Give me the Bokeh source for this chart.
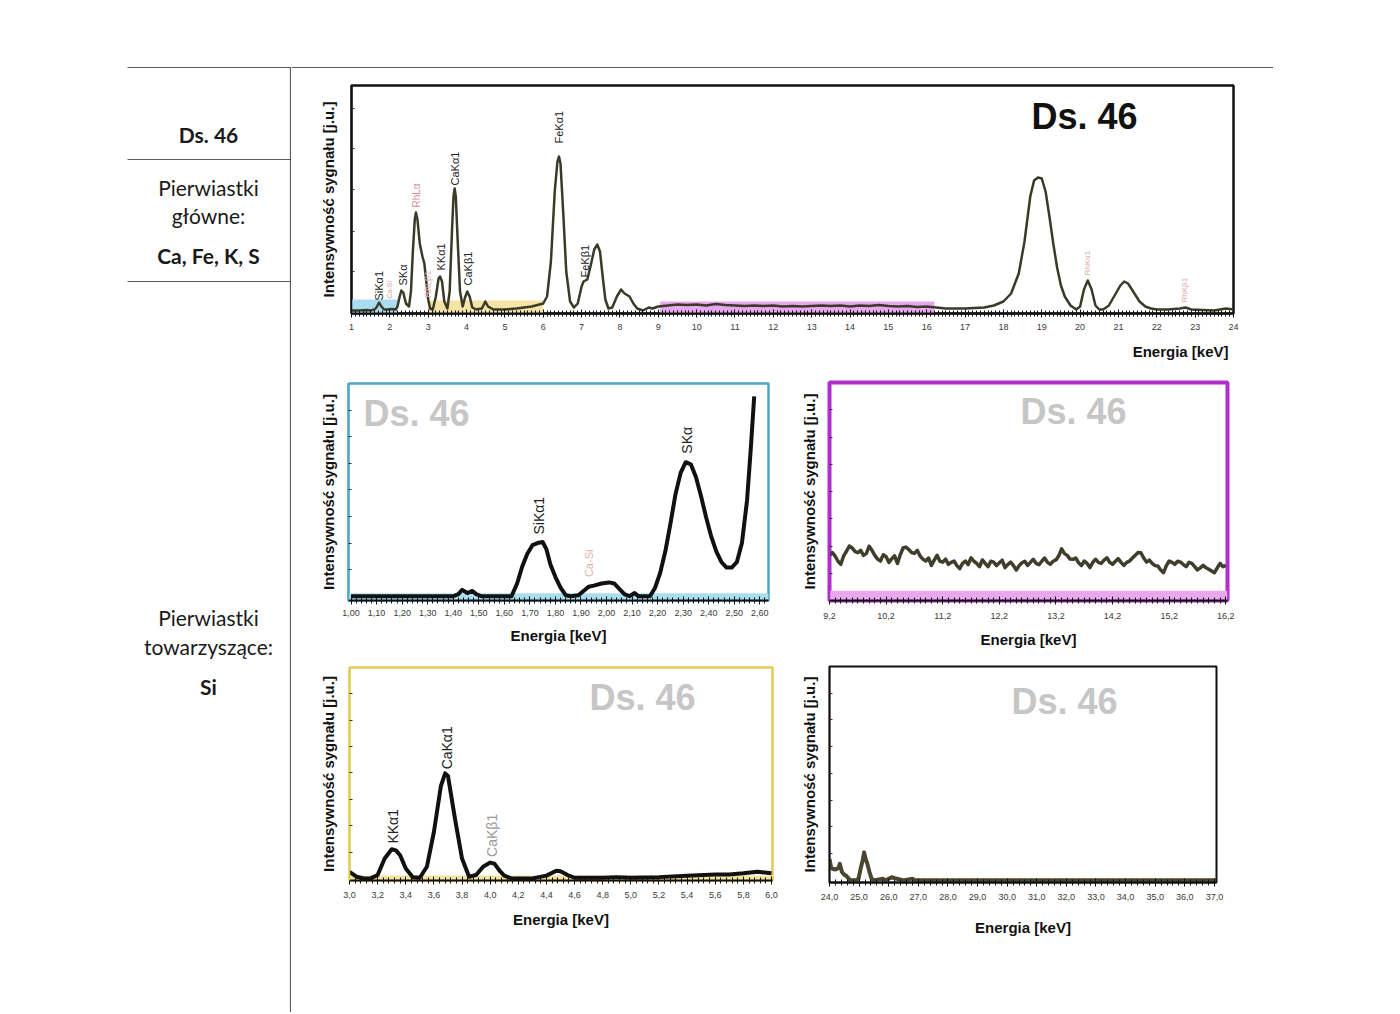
from math import pi
import numpy as np
from bokeh.plotting import figure
from bokeh.layouts import row, column
from bokeh.models import (Range1d, Label, Title, SingleIntervalTicker, FixedTicker,
                          CustomJSTickFormatter)
from bokeh.core.properties import value
from bokeh.embed import file_html
from bokeh.resources import INLINE

FONT = "Liberation Sans"
TFONT = "Lato"

# ------------------------------------------------------------------ data
# full spectrum 1-24 keV (arbitrary units)
main_kev = [1.0, 1.2, 1.4, 1.5, 1.6, 1.65, 1.72, 1.78, 1.85, 1.95,
            2.05, 2.15, 2.2, 2.25, 2.3, 2.35, 2.42, 2.5, 2.55, 2.6,
            2.65, 2.68, 2.72, 2.78, 2.85, 2.9, 2.95, 3.0, 3.05, 3.12,
            3.2, 3.27, 3.31, 3.36, 3.42, 3.5, 3.56, 3.62, 3.66, 3.69,
            3.72, 3.77, 3.83, 3.9, 3.96, 4.02, 4.08, 4.15, 4.25, 4.4,
            4.49, 4.56, 4.7, 5.0, 5.3, 5.5, 5.7, 5.9, 6.0, 6.1,
            6.2, 6.3, 6.37, 6.41, 6.45, 6.52, 6.6, 6.7, 6.8, 6.9,
            7.0, 7.05, 7.15, 7.25, 7.33, 7.41, 7.48, 7.55, 7.62, 7.7,
            7.8, 7.92, 8.03, 8.12, 8.25, 8.35, 8.45, 8.6, 8.75, 8.85,
            9.0,
            9.25, 9.5, 9.75, 10.0, 10.25, 10.5, 10.75, 11.0, 11.25, 11.5,
            11.75, 12.0, 12.25, 12.5, 12.75, 13.0, 13.25, 13.5, 13.75, 14.0,
            14.25, 14.5, 14.75, 15.0, 15.25, 15.5, 15.75, 16.0, 16.25,
            16.5, 16.75, 17.0, 17.25, 17.5, 17.75, 18.0, 18.2, 18.4, 18.55,
            18.7, 18.8, 18.9, 19.0, 19.1, 19.2, 19.3, 19.4, 19.5, 19.6,
            19.75, 19.9, 20.0, 20.1, 20.2, 20.3, 20.4, 20.5, 20.6, 20.75,
            20.9, 21.05, 21.15, 21.25, 21.4, 21.55, 21.7, 21.85, 22.0, 22.3,
            22.6, 22.75, 22.9, 23.2, 23.5, 23.8, 24.0]
main_int = [1, 1, 1.5, 1, 2, 4, 9, 5, 2, 2,
            2.5, 2, 5, 14, 21, 19, 8, 5, 20, 60,
            92, 99, 92, 68, 55, 48, 30, 12, 3, 2,
            15, 33, 35, 30, 10, 3, 20, 80, 115, 123,
            115, 70, 20, 5, 14, 20, 15, 4, 2, 3,
            10, 5, 2, 2, 3, 4, 5, 7, 8, 15,
            50, 120, 150, 155, 148, 100, 40, 10, 4, 8,
            25, 30, 32, 48, 62, 67, 60, 35, 12, 3,
            4, 15, 22, 18, 15, 8, 3, 1, 4, 3,
            5,
            6, 7, 6.5, 7, 6, 7.5, 6.5, 6, 5.5, 6,
            5.5, 6, 5, 5.5, 5, 5.5, 6, 5.5, 6, 5,
            6, 5.5, 6.5, 5.5, 5, 5.5, 4.5, 5, 4,
            3, 3, 3, 3.5, 4, 6, 10, 18, 38, 70,
            115, 131, 134, 133, 120, 95, 68, 44, 26, 15,
            6, 2, 5, 22, 31, 22, 6, 2, 2, 6,
            16, 26, 30, 28, 19, 10, 5, 3, 2, 2,
            3, 4, 2, 1.5, 1, 3, 2]
main_lbl = ["SiKα1", "Ca-Si", "SKα", "RhLα", "RhLβ1", "KKα1", "CaKα1", "CaKβ1",
            "FeKα1", "FeKβ1", "RhKα1", "RhKβ1"]
main_lbl_kev = [1.73, 1.99, 2.33, 2.70, 3.00, 3.34, 3.71, 4.05, 6.40, 7.08, 20.19, 22.72]
main_lbl_int = [11, 13, 26, 104, 14, 41, 126, 26, 168, 34, 36, 9]
main_lbl_color = ["#222222", "#d9a3a3", "#222222", "#d48f8f", "#e2b8b8", "#222222",
                  "#222222", "#222222", "#222222", "#222222", "#dcaaaa", "#dcaaaa"]
main_lbl_size = ["11px", "7px", "11px", "10px", "9px", "11px", "11px", "11px",
                 "11px", "11px", "8px", "8px"]
band_start = [1.0, 3.0, 9.05]
band_end = [2.2, 6.0, 16.2]
band_top = [12, 11, 10]
band_color = ["#a9dcf0", "#f4e4a6", "#e8a6ee"]

# zoom 1.0-2.6 keV
m1_kev = [1.00, 1.20, 1.40, 1.42, 1.435, 1.455, 1.475, 1.49, 1.51, 1.60,
          1.628, 1.65, 1.67, 1.69, 1.71, 1.73, 1.75, 1.765, 1.78, 1.80,
          1.82, 1.84, 1.86, 1.89, 1.91, 1.93, 1.95, 1.98, 2.01, 2.03,
          2.05, 2.07, 2.09, 2.11, 2.125, 2.14, 2.17, 2.19, 2.21, 2.23,
          2.25, 2.27, 2.29, 2.31, 2.33, 2.35, 2.37, 2.39, 2.41, 2.43,
          2.45, 2.47, 2.49, 2.51, 2.53, 2.55, 2.565, 2.578]
m1_int = [0, 0, 0, 1, 3, 1.5, 2.5, 1, 0, 0,
          0, 6, 14, 20, 24, 25, 25.5, 22, 15, 9,
          4, 0.5, 0, 0.5, 2.5, 4.5, 5, 6, 6.5, 6,
          3.5, 1, 0, 1.5, 0, 0, 0, 4, 11, 21,
          34, 48, 58, 63, 62, 56, 47, 37, 28, 21,
          16, 13.5, 13.5, 16, 25, 45, 70, 94]
m1_lbl = ["SiKα1", "Ca-Si", "SKα"]
m1_lbl_kev = [1.735, 1.93, 2.315]
m1_lbl_int = [29, 9, 67]
m1_lbl_color = ["#222222", "#e0b0a0", "#222222"]

# zoom 9.2-16.2 keV
m2_kev = [9.2, 9.25, 9.3, 9.35, 9.4, 9.45, 9.5, 9.55, 9.6, 9.65,
          9.7, 9.75, 9.8, 9.85, 9.9, 9.95, 10.0, 10.05, 10.1, 10.15,
          10.2, 10.25, 10.3, 10.35, 10.4, 10.45, 10.5, 10.55, 10.6, 10.65,
          10.7, 10.75, 10.8, 10.85, 10.9, 10.95, 11.0, 11.05, 11.1, 11.15,
          11.2, 11.25, 11.3, 11.35, 11.4, 11.45, 11.5, 11.55, 11.6, 11.65,
          11.7, 11.75, 11.8, 11.85, 11.9, 11.95, 12.0, 12.05, 12.1, 12.15,
          12.2, 12.25, 12.3, 12.35, 12.4, 12.45, 12.5, 12.55, 12.6, 12.65,
          12.7, 12.75, 12.8, 12.85, 12.9, 12.95, 13.0, 13.05, 13.1, 13.15,
          13.2, 13.25, 13.3, 13.35, 13.4, 13.45, 13.5, 13.55, 13.6, 13.65,
          13.7, 13.75, 13.8, 13.85, 13.9, 13.95, 14.0, 14.05, 14.1, 14.15,
          14.2, 14.25, 14.3, 14.35, 14.4, 14.45, 14.5, 14.55, 14.6, 14.65,
          14.7, 14.75, 14.8, 14.85, 14.9, 14.95, 15.0, 15.05, 15.1, 15.15,
          15.2, 15.25, 15.3, 15.35, 15.4, 15.45, 15.5, 15.55, 15.6, 15.65,
          15.7, 15.75, 15.8, 15.85, 15.9, 15.95, 16.0, 16.05, 16.1, 16.15, 16.2]
m2_int = [20.7, 22.0, 20.4, 18.0, 16.6, 20.5, 22.6, 25.0, 24.1, 22.5,
          21.9, 23.0, 20.7, 21.5, 24.9, 23.0, 20.7, 19.0, 18.1, 21.0,
          20.1, 17.5, 19.2, 20.5, 17.0, 21.0, 24.1, 24.5, 23.4, 22.0,
          21.6, 23.0, 20.4, 19.0, 18.1, 19.5, 16.1, 18.5, 20.7, 18.0,
          17.6, 19.0, 16.6, 17.5, 18.1, 16.0, 14.6, 17.0, 18.1, 16.5,
          19.6, 18.0, 17.0, 15.5, 18.6, 17.0, 15.5, 18.0, 17.6, 16.0,
          17.3, 18.5, 15.1, 16.5, 17.6, 16.0, 14.0, 16.0, 17.3, 18.0,
          16.1, 17.5, 18.9, 17.0, 16.4, 18.0, 19.5, 17.5, 16.6, 18.0,
          18.6, 20.5, 23.7, 21.5, 20.7, 19.0, 18.9, 19.5, 17.3, 16.0,
          18.1, 17.0, 15.1, 17.5, 18.9, 17.5, 17.0, 18.5, 19.6, 17.5,
          16.6, 18.0, 19.2, 17.5, 16.1, 17.5, 18.1, 19.5, 20.7, 22.0,
          21.9, 19.5, 17.6, 18.5, 17.0, 16.0, 15.8, 14.0, 12.8, 16.0,
          18.1, 17.5, 16.6, 18.0, 17.6, 16.5, 15.5, 17.5, 17.0, 15.5,
          14.0, 15.0, 16.1, 15.0, 14.3, 13.5, 12.8, 15.0, 17.0, 15.5, 16.1]

# zoom 3.0-6.0 keV
b1_kev = [3.0, 3.05, 3.1, 3.15, 3.2, 3.25, 3.3, 3.33, 3.36, 3.4,
          3.45, 3.5, 3.55, 3.6, 3.65, 3.68, 3.7, 3.75, 3.8, 3.85,
          3.9, 3.95, 4.0, 4.03, 4.07, 4.1, 4.15, 4.3, 4.4, 4.47,
          4.5, 4.55, 4.6, 4.8, 4.9, 5.0, 5.2, 5.4, 5.6, 5.7,
          5.8, 5.9, 6.0]
b1_int = [3.1, 0.8, 0, 0, 1.6, 9.4, 13.8, 13.3, 11, 4.7,
          0.5, 0.3, 5.5, 22, 43.9, 49.8, 48.6, 28.2, 9.4, 0.8,
          1.6, 5.5, 7.5, 7, 3.4, 1.3, 0, 0, 1.3, 3.6,
          3.4, 1.6, 0.3, 0.3, 0.6, 0.3, 0.6, 1.3, 1.9, 1.9,
          2.4, 3.1, 2.4]
b1_lbl = ["KKα1", "CaKα1", "CaKβ1"]
b1_lbl_kev = [3.31, 3.69, 4.01]
b1_lbl_int = [16.5, 51.7, 10.2]
b1_lbl_color = ["#222222", "#222222", "#9a9a9a"]

# zoom 24-37 keV
b2_kev = [24.0, 24.05, 24.1, 24.2, 24.3, 24.35, 24.42, 24.5, 24.55, 24.65,
          24.7, 24.9, 24.98, 25.05, 25.12, 25.17, 25.22, 25.28, 25.35, 25.42,
          25.5, 25.8, 25.9, 26.1, 26.2, 26.35, 26.5, 26.8, 26.9, 37.07]
b2_int = [10, 6.2, 5.4, 5.1, 5.7, 7.7, 3.9, 2.6, 2.3, 0.8,
          0, 0, 0.8, 5.4, 9.3, 13.1, 10, 7.7, 3.9, 0.8,
          0, 0.8, 0, 1.5, 1, 0.5, 0, 0.8, 0, 0]

m2_ticks = [9.2, 10.2, 11.2, 12.2, 13.2, 14.2, 15.2, 16.2]

# ------------------------------------------------------------------ helpers
GEOM = {}


def make_fig(box, frame, xr, yr):
    bx0, by0, bx1, by1 = box
    fl, ft, fr, fb = frame
    p = figure(width=bx1 - bx0, height=by1 - by0,
               x_range=Range1d(*xr), y_range=Range1d(*yr),
               output_backend="svg", toolbar_location=None,
               min_border_left=fl - bx0, min_border_right=bx1 - fr,
               min_border_top=ft - by0, min_border_bottom=by1 - fb)
    p.frame_align = False
    p.grid.visible = False
    p.background_fill_color = "white"
    p.border_fill_color = "white"
    GEOM[p.id] = dict(frame=frame, xr=xr, yr=yr)
    return p


def px2d(p, px, py):
    g = GEOM[p.id]
    fl, ft, fr, fb = g["frame"]
    x0, x1 = g["xr"]
    y0, y1 = g["yr"]
    return (x0 + (px - fl) / (fr - fl) * (x1 - x0),
            y0 + (fb - py) / (fb - ft) * (y1 - y0))


def style_x(p, ticker, code, standoff=5, label=None, label_standoff=8):
    ax = p.xaxis[0]
    ax.ticker = ticker
    ax.formatter = CustomJSTickFormatter(code=code)
    ax.major_label_text_font = FONT
    ax.major_label_text_font_size = "9px"
    ax.major_label_text_color = "#3a3a3a"
    ax.axis_line_color = "#111111"
    ax.axis_line_width = 2
    ax.major_tick_in = 4
    ax.major_tick_out = 4
    ax.minor_tick_in = 3
    ax.minor_tick_out = 3
    ax.major_tick_line_color = "#111111"
    ax.minor_tick_line_color = "#111111"
    ax.major_label_standoff = standoff
    if label:
        ax.axis_label = label
        ax.axis_label_text_font = FONT
        ax.axis_label_text_font_style = "bold"
        ax.axis_label_text_font_size = "15px"
        ax.axis_label_text_color = "#111111"
        ax.axis_label_standoff = label_standoff


def style_y(p, ticks, color, label_standoff=13):
    ay = p.yaxis[0]
    ay.ticker = FixedTicker(ticks=ticks)
    ay.formatter = CustomJSTickFormatter(code="return ''")
    ay.major_tick_in = 3
    ay.major_tick_out = 0
    ay.minor_tick_in = 0
    ay.minor_tick_out = 0
    ay.major_label_standoff = 0
    ay.major_tick_line_color = "#333333"
    ay.axis_line_color = color
    ay.axis_line_width = 1.5
    ay.axis_label = "Intensywność sygnału [j.u.]"
    ay.axis_label_text_font = FONT
    ay.axis_label_text_font_style = "bold"
    ay.axis_label_text_font_size = "15px"
    ay.axis_label_text_color = "#111111"
    ay.axis_label_standoff = label_standoff


def ds_label(p, cx, cy, color, size="36px"):
    x, y = px2d(p, cx, cy)
    p.add_layout(Label(x=x, y=y, text="Ds. 46", text_font=FONT, text_font_style="bold",
                       text_font_size=size, text_align="center", text_baseline="middle",
                       text_color=color))


def peak_labels(p, names, xs, ys, colors, sizes):
    p.text(x=xs, y=ys, text=names, angle=pi / 2, text_align="left",
           text_baseline="middle", text_font=value(FONT),
           text_font_size=sizes, text_color=colors)

# ------------------------------------------------------------------ left table
L = figure(width=291, height=1012, x_range=Range1d(0, 291), y_range=Range1d(1012, 0),
           output_backend="svg", toolbar_location=None,
           x_axis_location=None, y_axis_location=None,
           min_border=0, min_border_left=0, min_border_right=0,
           min_border_top=0, min_border_bottom=0)
L.frame_align = False
L.grid.visible = False
L.outline_line_color = None
L.segment(x0=[127, 127, 127, 290], y0=[67, 159, 281, 67],
          x1=[291, 290, 290, 290], y1=[67, 159, 281, 1012],
          line_color="#5c5c5c", line_width=1.2)
L.text(x=[208, 208, 208], y=[134, 255, 686], text=["Ds. 46", "Ca, Fe, K, S", "Si"],
       text_font=value(TFONT), text_font_style="bold", text_font_size="21px",
       text_align="center", text_baseline="middle", text_color="#1a1a1a")
L.text(x=[208, 208, 208, 208], y=[187, 215, 617, 646],
       text=["Pierwiastki", "główne:", "Pierwiastki", "towarzyszące:"],
       text_font=value(TFONT), text_font_style="normal", text_font_size="21px",
       text_align="center", text_baseline="middle", text_color="#1a1a1a")

# ------------------------------------------------------------------ top strip line
S = figure(width=982, height=68, x_range=Range1d(291, 1273), y_range=Range1d(68, 0),
           output_backend="svg", toolbar_location=None,
           x_axis_location=None, y_axis_location=None,
           min_border=0, min_border_left=0, min_border_right=0,
           min_border_top=0, min_border_bottom=0)
S.frame_align = False
S.grid.visible = False
S.outline_line_color = None
S.segment(x0=[291], y0=[67], x1=[1273], y1=[67], line_color="#5c5c5c", line_width=1.2)

# ------------------------------------------------------------------ main spectrum
T = make_fig((291, 68, 1273, 370), (351, 85, 1233, 313), (1, 24), (-2, 226))
T.quad(left=band_start, right=band_end, bottom=[-2] * 3, top=band_top,
       fill_color=band_color, line_color=None)
T.line(main_kev, main_int, line_color="#3b3a29", line_width=2.5, line_join="round")
peak_labels(T, main_lbl, main_lbl_kev, main_lbl_int, main_lbl_color, main_lbl_size)
style_x(T, SingleIntervalTicker(interval=1, num_minor_ticks=10), "return tick.toFixed(0)", 6)
style_y(T, [40, 80, 122, 163, 203], "#111111", 15)
T.add_layout(Title(text="Energia [keV]", align="right", offset=5, standoff=16,
                   text_font=FONT, text_font_style="bold", text_font_size="15px",
                   text_color="#111111"), "below")
T.outline_line_color = "#111111"
T.outline_line_width = 2.5
ds_label(T, 1084, 116, "#111111", "36px")

# ------------------------------------------------------------------ zoom 1.0-2.6
M1 = make_fig((291, 370, 796, 650), (348, 383, 768, 600), (0.99, 2.634), (-2, 100))
M1.quad(left=[0.99], right=[2.634], bottom=[-2], top=[1.4],
        fill_color="#a9def0", line_color=None)
M1.line(m1_kev, m1_int, line_color="#111111", line_width=4, line_join="round")
peak_labels(M1, m1_lbl, m1_lbl_kev, m1_lbl_int, m1_lbl_color, ["14px", "11px", "14px"])
style_x(M1, SingleIntervalTicker(interval=0.1, num_minor_ticks=5),
        "return tick.toFixed(2).replace('.', ',')", 5, "Energia [keV]", 8)
style_y(M1, [12.5, 25, 37.5, 50, 62.5, 75, 87.5], "#4ea6c4", 12)
M1.outline_line_color = "#4ea6c4"
M1.outline_line_width = 2.5
ds_label(M1, 416, 413, "#c6c6c6")

# ------------------------------------------------------------------ zoom 9.2-16.2
M2 = make_fig((796, 370, 1273, 650), (829, 382, 1227, 602), (9.2, 16.23), (0, 100))
M2.quad(left=[9.2], right=[16.23], bottom=[0], top=[4.5],
        fill_color="#e9a8f0", line_color=None)
M2.line(m2_kev, m2_int, line_color="#3f3d2b", line_width=3.5, line_join="round")
style_x(M2, FixedTicker(ticks=m2_ticks,
                        minor_ticks=[float(v) for v in np.round(np.arange(9.2, 16.25, 0.1), 2)]),
        "return tick.toFixed(1).replace('.', ',')", 8, "Energia [keV]", 9)
style_y(M2, [12.5, 25, 37.5, 50, 62.5, 75, 87.5], "#b02ecb", 12)
M2.outline_line_color = "#b02ecb"
M2.outline_line_width = 4
ds_label(M2, 1073, 411, "#c6c6c6")

# ------------------------------------------------------------------ zoom 3.0-6.0
B1 = make_fig((291, 650, 796, 1012), (349, 667, 772, 880), (3.0, 6.007), (-1, 100))
B1.quad(left=[3.0], right=[6.007], bottom=[-1], top=[1.4],
        fill_color="#f3e49c", line_color=None)
B1.line(b1_kev, b1_int, line_color="#111111", line_width=4, line_join="round")
peak_labels(B1, b1_lbl, b1_lbl_kev, b1_lbl_int, b1_lbl_color, ["14px", "14px", "14px"])
style_x(B1, SingleIntervalTicker(interval=0.2, num_minor_ticks=5),
        "return tick.toFixed(1).replace('.', ',')", 7, "Energia [keV]", 10)
style_y(B1, [12.5, 25, 37.5, 50, 62.5, 75, 87.5], "#e3cc55", 13)
B1.outline_line_color = "#e3cc55"
B1.outline_line_width = 2.5
ds_label(B1, 642, 697, "#c6c6c6")

# ------------------------------------------------------------------ zoom 24-37
B2 = make_fig((796, 650, 1273, 1012), (829, 666, 1216, 882), (24, 37.07), (-1, 100))
B2.line(b2_kev, b2_int, line_color="#4a4630", line_width=4, line_join="round")
style_x(B2, SingleIntervalTicker(interval=1, num_minor_ticks=5),
        "return tick.toFixed(1).replace('.', ',')", 7, "Energia [keV]", 16)
style_y(B2, [12.5, 25, 37.5, 50, 62.5, 75, 87.5], "#111111", 12)
B2.outline_line_color = "#111111"
B2.outline_line_width = 2
ds_label(B2, 1064, 701, "#c6c6c6")

layout = row(L, column(S, T, row(M1, M2), row(B1, B2)))
open("out.html", "w").write(file_html(layout, INLINE, title="Ds. 46"))
